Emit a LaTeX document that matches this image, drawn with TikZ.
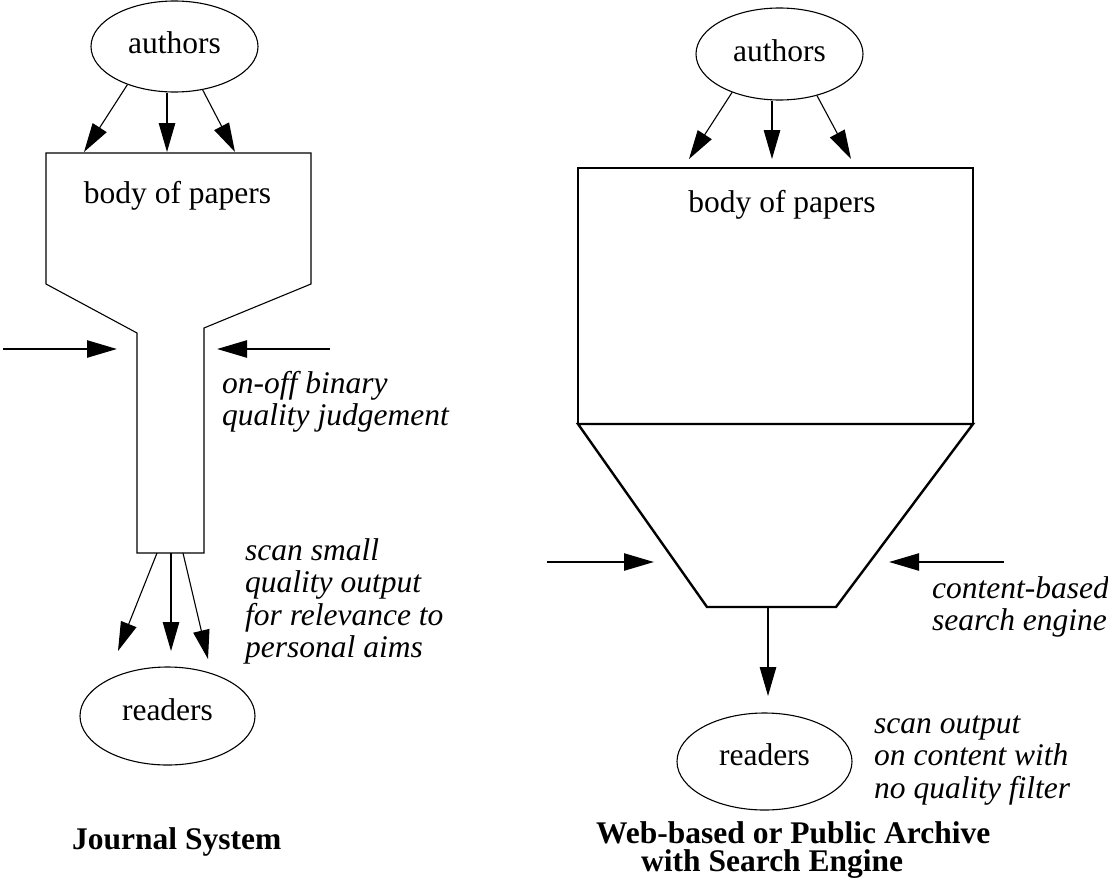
\documentclass[tikz,border=0pt]{standalone}
\usepackage{fontspec}
\setmainfont{Liberation Serif}
\usetikzlibrary{arrows.meta,shapes.geometric}
\begin{document}
\begin{tikzpicture}[x=1pt,y=-1pt,
  thinline/.style={line width=1.1pt},
  thickline/.style={line width=2.4pt},
  ell/.style={ellipse,draw,line width=1.1pt,inner sep=0pt,font=\fontsize{31.5}{32.5}\selectfont},
  flow/.style={line width=1.1pt,-{Triangle[length=29pt,width=16.5pt]}},
  squeeze/.style={line width=2.4pt,-{Triangle[length=30pt,width=17pt]}},
  lbl/.style={font=\fontsize{31.5}{32.5}\selectfont,inner sep=0pt},
  note/.style={font=\fontsize{31.5}{32.5}\selectfont\itshape,align=left,anchor=base west,inner sep=0pt},
  title/.style={font=\fontsize{31.5}{28}\selectfont\bfseries,align=left,anchor=base west,inner sep=0pt}
]
\useasboundingbox (0,0) rectangle (1108,878);

% ---------------- Journal System ----------------
\node[ell,minimum width=167pt,minimum height=91pt,text height=22pt,text depth=8pt] (A1) at (174.5,46.5) {authors};

\coordinate (L1) at (46,153);
\coordinate (L2) at (311,153);
\coordinate (L3) at (311,284);
\coordinate (L4) at (204,328);
\coordinate (L5) at (204,553);
\coordinate (L6) at (137,553);
\coordinate (L7) at (137,333);
\coordinate (L8) at (46,284);
\draw[thinline] (L1) -- (L2) -- (L3) -- (L4) -- (L5) -- (L6) -- (L7) -- (L8) -- cycle;
\node[lbl,anchor=base] (B1) at (177.5,203) {body of papers};

\coordinate (T1a) at (84,152);
\coordinate (T1b) at (167,152);
\coordinate (T1c) at (235,152);
\draw[flow] (A1.219) -- (T1a);
\draw[flow] (A1.south -| T1b) -- (T1b);
\draw[flow] (A1.303) -- (T1c);

\coordinate (S1a) at (3,349);
\coordinate (S1b) at (117,349);
\coordinate (S1c) at (330,349);
\coordinate (S1d) at (217,349);
\draw[squeeze] (S1a) -- (S1b);
\draw[squeeze] (S1c) -- (S1d);
% anchor = baseline of the last line
\node[note] (N1) at (222,425.5) {on-off binary\\quality judgement};

\coordinate (O1a) at (157,553);
\coordinate (O1b) at (171,553);
\coordinate (O1c) at (183,553);
\coordinate (E1a) at (118,651);
\coordinate (E1b) at (171,651);
\coordinate (E1c) at (208,659);
\draw[flow] (O1a) -- (E1a);
\draw[flow] (O1b) -- (E1b);
\draw[flow] (O1c) -- (E1c);
\node[note] (N2) at (245,657.5) {scan small\\quality output\\for relevance to\\personal aims};

\node[ell,minimum width=175pt,minimum height=98pt,text height=22pt,text depth=13pt] (R1) at (167.5,716) {readers};
\node[title] (J1) at (72,849) {Journal System};

% ---------------- Web-based archive ----------------
\node[ell,minimum width=167pt,minimum height=92pt,text height=22pt,text depth=8pt] (A2) at (779.5,54) {authors};

\coordinate (P1) at (578,168);
\coordinate (P2) at (973,168);
\coordinate (P3) at (973,424);
\coordinate (P4) at (578,424);
\coordinate (P5) at (836,607);
\coordinate (P6) at (707,607);
\draw[thickline] (P1) -- (P2) -- (P3) -- (P4) -- cycle;
\draw[thickline] (P4) -- (P3) -- (P5) -- (P6) -- cycle;
\node[lbl,anchor=base] (B2) at (782,212) {body of papers};

\coordinate (T2a) at (689,159);
\coordinate (T2b) at (772,159);
\coordinate (T2c) at (851,159);
\draw[flow] (A2.219.4) -- (T2a);
\draw[flow] (A2.south -| T2b) -- (T2b);
\draw[flow] (A2.312.5) -- (T2c);

\coordinate (S2a) at (547,562);
\coordinate (S2b) at (654,562);
\coordinate (S2c) at (1004,562);
\coordinate (S2d) at (889,562);
\draw[squeeze] (S2a) -- (S2b);
\draw[squeeze] (S2c) -- (S2d);
\node[note] (N3) at (932,630.5) {content-based\\search engine};

\coordinate (O2) at (768,607);
\coordinate (E2) at (768,696);
\draw[flow] (O2) -- (E2);

\node[ell,minimum width=175pt,minimum height=97pt,text height=22pt,text depth=15pt] (R2) at (764.5,761.5) {readers};
\node[note] (N4) at (874,798) {scan output\\on content with\\no quality filter};
\node[title] (J2) at (596,871) {Web-based or Public Archive\\\hspace*{45pt}with Search Engine};
\end{tikzpicture}
\end{document}
